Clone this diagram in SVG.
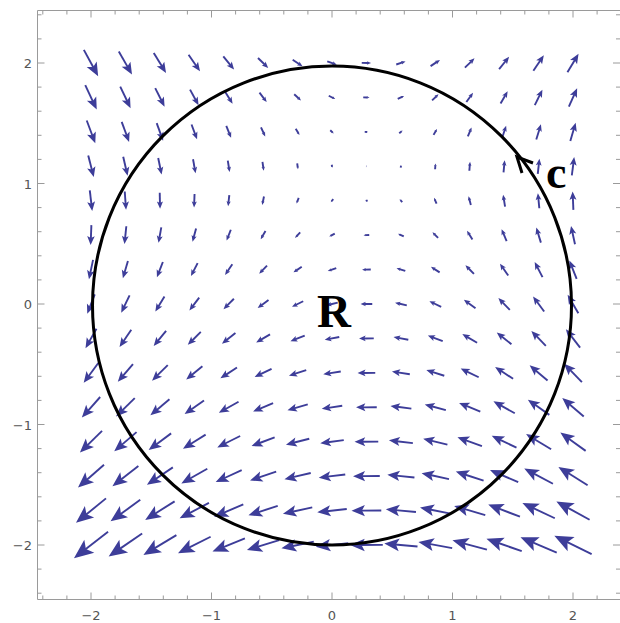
<svg xmlns="http://www.w3.org/2000/svg" width="620" height="623" viewBox="0 0 620 623">
<style>
.sh{fill:none;stroke:#3d3d99;stroke-width:1.9;vector-effect:non-scaling-stroke}
.hd{fill:#3d3d99;stroke:none}
.fr{fill:none;stroke:#9a9a9a;stroke-width:1}
.tk{font-family:"DejaVu Sans",sans-serif;font-size:13px;fill:#555}
.lb{font-family:"Liberation Serif","Times New Roman",serif;font-weight:bold;fill:#000}
</style>
<defs>
<g id="v"><path class="sh" d="M-0.5,0H0.18"/><path class="hd" d="M0.5,0L0.05,-0.19L0.15,0L0.05,0.19Z"/></g>
</defs>
<rect width="620" height="623" fill="#fff"/>
<g id="frame">
<path class="fr" d="M37.5,10.5H620M37.5,10.5V599.5H620"/>
<path class="fr" d="M91,599.5v-7M211.5,599.5v-7M332,599.5v-7M452.5,599.5v-7M573,599.5v-7M42.8,599.5v-4M66.9,599.5v-4M115.1,599.5v-4M139.2,599.5v-4M163.3,599.5v-4M187.4,599.5v-4M235.6,599.5v-4M259.7,599.5v-4M283.8,599.5v-4M307.9,599.5v-4M356.1,599.5v-4M380.2,599.5v-4M404.3,599.5v-4M428.4,599.5v-4M476.6,599.5v-4M500.7,599.5v-4M524.8,599.5v-4M548.9,599.5v-4M597.1,599.5v-4"/>
<path class="fr" d="M91,10.5v7M211.5,10.5v7M332,10.5v7M452.5,10.5v7M573,10.5v7M42.8,10.5v4M66.9,10.5v4M115.1,10.5v4M139.2,10.5v4M163.3,10.5v4M187.4,10.5v4M235.6,10.5v4M259.7,10.5v4M283.8,10.5v4M307.9,10.5v4M356.1,10.5v4M380.2,10.5v4M404.3,10.5v4M428.4,10.5v4M476.6,10.5v4M500.7,10.5v4M524.8,10.5v4M548.9,10.5v4M597.1,10.5v4"/>
<path class="fr" d="M37.5,63h7M37.5,183.5h7M37.5,304h7M37.5,424.5h7M37.5,545h7M37.5,14.8h4M37.5,38.9h4M37.5,87.1h4M37.5,111.2h4M37.5,135.3h4M37.5,159.4h4M37.5,207.6h4M37.5,231.7h4M37.5,255.8h4M37.5,279.9h4M37.5,328.1h4M37.5,352.2h4M37.5,376.3h4M37.5,400.4h4M37.5,448.6h4M37.5,472.7h4M37.5,496.8h4M37.5,520.9h4M37.5,569.1h4M37.5,593.2h4"/>
<path class="fr" d="M620,63h-7M620,183.5h-7M620,304h-7M620,424.5h-7M620,545h-7M620,14.8h-4M620,38.9h-4M620,87.1h-4M620,111.2h-4M620,135.3h-4M620,159.4h-4M620,207.6h-4M620,231.7h-4M620,255.8h-4M620,279.9h-4M620,328.1h-4M620,352.2h-4M620,376.3h-4M620,400.4h-4M620,448.6h-4M620,472.7h-4M620,496.8h-4M620,520.9h-4M620,569.1h-4M620,593.2h-4"/>
<text class="tk" x="91" y="620" text-anchor="middle">−2</text>
<text class="tk" x="211.5" y="620" text-anchor="middle">−1</text>
<text class="tk" x="332" y="620" text-anchor="middle">0</text>
<text class="tk" x="452.5" y="620" text-anchor="middle">1</text>
<text class="tk" x="573" y="620" text-anchor="middle">2</text>
<text class="tk" x="32" y="68" text-anchor="end">2</text>
<text class="tk" x="32" y="188.5" text-anchor="end">1</text>
<text class="tk" x="32" y="309" text-anchor="end">0</text>
<text class="tk" x="32" y="429.5" text-anchor="end">−1</text>
<text class="tk" x="32" y="550" text-anchor="end">−2</text>
</g>
<g id="field">
<g transform="translate(0,63)">
<use href="#v" transform="matrix(14.3 26.28 -26.28 14.3 91 0)"/>
<use href="#v" transform="matrix(13.22 23.02 -23.02 13.22 125.4 0)"/>
<use href="#v" transform="matrix(12.28 19.79 -19.79 12.28 159.9 0)"/>
<use href="#v" transform="matrix(11.46 16.5 -16.5 11.46 194.3 0)"/>
<use href="#v" transform="matrix(10.77 13.21 -13.21 10.77 228.7 0)"/>
<use href="#v" transform="matrix(10.22 9.93 -9.93 10.22 263.1 0)"/>
<use href="#v" transform="matrix(9.79 6.66 -6.66 9.79 297.6 0)"/>
<use href="#v" transform="matrix(9.5 3.4 -3.4 9.5 332 0)"/>
<use href="#v" transform="matrix(9.34 0.16 -0.16 9.34 366.4 0)"/>
<use href="#v" transform="matrix(9.31 -3.04 3.04 9.31 400.9 0)"/>
<use href="#v" transform="matrix(9.4 -6.21 6.21 9.4 435.3 0)"/>
<use href="#v" transform="matrix(9.63 -9.34 9.34 9.63 469.7 0)"/>
<use href="#v" transform="matrix(9.99 -12.42 12.42 9.99 504.1 0)"/>
<use href="#v" transform="matrix(10.48 -15.42 15.42 10.48 538.6 0)"/>
<use href="#v" transform="matrix(11.1 -18.36 18.36 11.1 573 0)"/>
</g>
<g transform="translate(0,97.4)">
<use href="#v" transform="matrix(11.48 24.43 -24.43 11.48 91 0)"/>
<use href="#v" transform="matrix(10.35 21.5 -21.5 10.35 125.4 0)"/>
<use href="#v" transform="matrix(9.37 18.55 -18.55 9.37 159.9 0)"/>
<use href="#v" transform="matrix(8.52 15.53 -15.53 8.52 194.3 0)"/>
<use href="#v" transform="matrix(7.81 12.5 -12.5 7.81 228.7 0)"/>
<use href="#v" transform="matrix(7.23 9.43 -9.43 7.23 263.1 0)"/>
<use href="#v" transform="matrix(6.8 6.35 -6.35 6.8 297.6 0)"/>
<use href="#v" transform="matrix(6.5 3.26 -3.26 6.5 332 0)"/>
<use href="#v" transform="matrix(6.34 0.15 -0.15 6.34 366.4 0)"/>
<use href="#v" transform="matrix(6.32 -2.94 2.94 6.32 400.9 0)"/>
<use href="#v" transform="matrix(6.44 -6.06 6.06 6.44 435.3 0)"/>
<use href="#v" transform="matrix(6.69 -9.16 9.16 6.69 469.7 0)"/>
<use href="#v" transform="matrix(7.08 -12.26 12.26 7.08 504.1 0)"/>
<use href="#v" transform="matrix(7.61 -15.31 15.31 7.61 538.6 0)"/>
<use href="#v" transform="matrix(8.28 -18.36 18.36 8.28 573 0)"/>
</g>
<g transform="translate(0,131.9)">
<use href="#v" transform="matrix(8.56 22.87 -22.87 8.56 91 0)"/>
<use href="#v" transform="matrix(7.41 20.2 -20.2 7.41 125.4 0)"/>
<use href="#v" transform="matrix(6.41 17.5 -17.5 6.41 159.9 0)"/>
<use href="#v" transform="matrix(5.54 14.72 -14.72 5.54 194.3 0)"/>
<use href="#v" transform="matrix(4.82 11.89 -11.89 4.82 228.7 0)"/>
<use href="#v" transform="matrix(4.24 9.01 -9.01 4.24 263.1 0)"/>
<use href="#v" transform="matrix(3.8 6.1 -6.1 3.8 297.6 0)"/>
<use href="#v" transform="matrix(3.5 3.14 -3.14 3.5 332 0)"/>
<use href="#v" transform="matrix(3.34 0.15 -0.15 3.34 366.4 0)"/>
<use href="#v" transform="matrix(3.33 -2.87 2.87 3.33 400.9 0)"/>
<use href="#v" transform="matrix(3.45 -5.93 5.93 3.45 435.3 0)"/>
<use href="#v" transform="matrix(3.72 -9.01 9.01 3.72 469.7 0)"/>
<use href="#v" transform="matrix(4.12 -12.12 12.12 4.12 504.1 0)"/>
<use href="#v" transform="matrix(4.67 -15.23 15.23 4.67 538.6 0)"/>
<use href="#v" transform="matrix(5.36 -18.36 18.36 5.36 573 0)"/>
</g>
<g transform="translate(0,166.3)">
<use href="#v" transform="matrix(5.54 21.59 -21.59 5.54 91 0)"/>
<use href="#v" transform="matrix(4.4 19.14 -19.14 4.4 125.4 0)"/>
<use href="#v" transform="matrix(3.4 16.64 -16.64 3.4 159.9 0)"/>
<use href="#v" transform="matrix(2.54 14.05 -14.05 2.54 194.3 0)"/>
<use href="#v" transform="matrix(1.82 11.39 -11.39 1.82 228.7 0)"/>
<use href="#v" transform="matrix(1.24 8.67 -8.67 1.24 263.1 0)"/>
<use href="#v" transform="matrix(0.8 5.89 -5.89 0.8 297.6 0)"/>
<use href="#v" transform="matrix(0.5 3.05 -3.05 0.5 332 0)"/>
<use href="#v" transform="matrix(0.34 0.14 -0.14 0.34 366.4 0)"/>
<use href="#v" transform="matrix(0.33 -2.8 2.8 0.33 400.9 0)"/>
<use href="#v" transform="matrix(0.45 -5.82 5.82 0.45 435.3 0)"/>
<use href="#v" transform="matrix(0.71 -8.89 8.89 0.71 469.7 0)"/>
<use href="#v" transform="matrix(1.11 -12.01 12.01 1.11 504.1 0)"/>
<use href="#v" transform="matrix(1.66 -15.16 15.16 1.66 538.6 0)"/>
<use href="#v" transform="matrix(2.34 -18.36 18.36 2.34 573 0)"/>
</g>
<g transform="translate(0,200.7)">
<use href="#v" transform="matrix(2.43 20.6 -20.6 2.43 91 0)"/>
<use href="#v" transform="matrix(1.32 18.32 -18.32 1.32 125.4 0)"/>
<use href="#v" transform="matrix(0.34 15.98 -15.98 0.34 159.9 0)"/>
<use href="#v" transform="matrix(-0.5 13.53 -13.53 -0.5 194.3 0)"/>
<use href="#v" transform="matrix(-1.2 11.01 -11.01 -1.2 228.7 0)"/>
<use href="#v" transform="matrix(-1.77 8.4 -8.4 -1.77 263.1 0)"/>
<use href="#v" transform="matrix(-2.2 5.73 -5.73 -2.2 297.6 0)"/>
<use href="#v" transform="matrix(-2.5 2.98 -2.98 -2.5 332 0)"/>
<use href="#v" transform="matrix(-2.66 0.14 -0.14 -2.66 366.4 0)"/>
<use href="#v" transform="matrix(-2.69 -2.75 2.75 -2.69 400.9 0)"/>
<use href="#v" transform="matrix(-2.57 -5.74 5.74 -2.57 435.3 0)"/>
<use href="#v" transform="matrix(-2.33 -8.79 8.79 -2.33 469.7 0)"/>
<use href="#v" transform="matrix(-1.94 -11.92 11.92 -1.94 504.1 0)"/>
<use href="#v" transform="matrix(-1.42 -15.1 15.1 -1.42 538.6 0)"/>
<use href="#v" transform="matrix(-0.77 -18.36 18.36 -0.77 573 0)"/>
</g>
<g transform="translate(0,235.1)">
<use href="#v" transform="matrix(-0.78 19.89 -19.89 -0.78 91 0)"/>
<use href="#v" transform="matrix(-1.84 17.73 -17.73 -1.84 125.4 0)"/>
<use href="#v" transform="matrix(-2.77 15.5 -15.5 -2.77 159.9 0)"/>
<use href="#v" transform="matrix(-3.57 13.16 -13.16 -3.57 194.3 0)"/>
<use href="#v" transform="matrix(-4.24 10.73 -10.73 -4.24 228.7 0)"/>
<use href="#v" transform="matrix(-4.79 8.21 -8.21 -4.79 263.1 0)"/>
<use href="#v" transform="matrix(-5.21 5.61 -5.61 -5.21 297.6 0)"/>
<use href="#v" transform="matrix(-5.5 2.92 -2.92 -5.5 332 0)"/>
<use href="#v" transform="matrix(-5.67 0.14 -0.14 -5.67 366.4 0)"/>
<use href="#v" transform="matrix(-5.7 -2.72 2.72 -5.7 400.9 0)"/>
<use href="#v" transform="matrix(-5.61 -5.68 5.68 -5.61 435.3 0)"/>
<use href="#v" transform="matrix(-5.4 -8.72 8.72 -5.4 469.7 0)"/>
<use href="#v" transform="matrix(-5.05 -11.86 11.86 -5.05 504.1 0)"/>
<use href="#v" transform="matrix(-4.58 -15.06 15.06 -4.58 538.6 0)"/>
<use href="#v" transform="matrix(-3.98 -18.36 18.36 -3.98 573 0)"/>
</g>
<g transform="translate(0,269.6)">
<use href="#v" transform="matrix(-4.09 19.46 -19.46 -4.09 91 0)"/>
<use href="#v" transform="matrix(-5.07 17.38 -17.38 -5.07 125.4 0)"/>
<use href="#v" transform="matrix(-5.92 15.22 -15.22 -5.92 159.9 0)"/>
<use href="#v" transform="matrix(-6.67 12.93 -12.93 -6.67 194.3 0)"/>
<use href="#v" transform="matrix(-7.3 10.56 -10.56 -7.3 228.7 0)"/>
<use href="#v" transform="matrix(-7.81 8.1 -8.1 -7.81 263.1 0)"/>
<use href="#v" transform="matrix(-8.21 5.54 -5.54 -8.21 297.6 0)"/>
<use href="#v" transform="matrix(-8.5 2.89 -2.89 -8.5 332 0)"/>
<use href="#v" transform="matrix(-8.67 0.14 -0.14 -8.67 366.4 0)"/>
<use href="#v" transform="matrix(-8.73 -2.7 2.7 -8.73 400.9 0)"/>
<use href="#v" transform="matrix(-8.67 -5.64 5.64 -8.67 435.3 0)"/>
<use href="#v" transform="matrix(-8.5 -8.69 8.69 -8.5 469.7 0)"/>
<use href="#v" transform="matrix(-8.21 -11.83 11.83 -8.21 504.1 0)"/>
<use href="#v" transform="matrix(-7.81 -15.04 15.04 -7.81 538.6 0)"/>
<use href="#v" transform="matrix(-7.29 -18.36 18.36 -7.29 573 0)"/>
</g>
<g transform="translate(0,304)">
<use href="#v" transform="matrix(-7.5 19.32 -19.32 -7.5 91 0)"/>
<use href="#v" transform="matrix(-8.37 17.26 -17.26 -8.37 125.4 0)"/>
<use href="#v" transform="matrix(-9.13 15.12 -15.12 -9.13 159.9 0)"/>
<use href="#v" transform="matrix(-9.8 12.86 -12.86 -9.8 194.3 0)"/>
<use href="#v" transform="matrix(-10.37 10.51 -10.51 -10.37 228.7 0)"/>
<use href="#v" transform="matrix(-10.85 8.06 -8.06 -10.85 263.1 0)"/>
<use href="#v" transform="matrix(-11.22 5.52 -5.52 -11.22 297.6 0)"/>
<use href="#v" transform="matrix(-11.5 2.88 -2.88 -11.5 332 0)"/>
<use href="#v" transform="matrix(-11.68 0.14 -0.14 -11.68 366.4 0)"/>
<use href="#v" transform="matrix(-11.76 -2.69 2.69 -11.76 400.9 0)"/>
<use href="#v" transform="matrix(-11.75 -5.63 5.63 -11.75 435.3 0)"/>
<use href="#v" transform="matrix(-11.63 -8.67 8.67 -11.63 469.7 0)"/>
<use href="#v" transform="matrix(-11.42 -11.81 11.81 -11.42 504.1 0)"/>
<use href="#v" transform="matrix(-11.11 -15.03 15.03 -11.11 538.6 0)"/>
<use href="#v" transform="matrix(-10.7 -18.36 18.36 -10.7 573 0)"/>
</g>
<g transform="translate(0,338.4)">
<use href="#v" transform="matrix(-11 19.46 -19.46 -11 91 0)"/>
<use href="#v" transform="matrix(-11.74 17.38 -17.38 -11.74 125.4 0)"/>
<use href="#v" transform="matrix(-12.39 15.22 -15.22 -12.39 159.9 0)"/>
<use href="#v" transform="matrix(-12.97 12.93 -12.93 -12.97 194.3 0)"/>
<use href="#v" transform="matrix(-13.47 10.56 -10.56 -13.47 228.7 0)"/>
<use href="#v" transform="matrix(-13.89 8.1 -8.1 -13.89 263.1 0)"/>
<use href="#v" transform="matrix(-14.23 5.54 -5.54 -14.23 297.6 0)"/>
<use href="#v" transform="matrix(-14.5 2.89 -2.89 -14.5 332 0)"/>
<use href="#v" transform="matrix(-14.69 0.14 -0.14 -14.69 366.4 0)"/>
<use href="#v" transform="matrix(-14.8 -2.7 2.7 -14.8 400.9 0)"/>
<use href="#v" transform="matrix(-14.84 -5.64 5.64 -14.84 435.3 0)"/>
<use href="#v" transform="matrix(-14.8 -8.69 8.69 -14.8 469.7 0)"/>
<use href="#v" transform="matrix(-14.68 -11.83 11.83 -14.68 504.1 0)"/>
<use href="#v" transform="matrix(-14.48 -15.04 15.04 -14.48 538.6 0)"/>
<use href="#v" transform="matrix(-14.2 -18.36 18.36 -14.2 573 0)"/>
</g>
<g transform="translate(0,372.9)">
<use href="#v" transform="matrix(-14.61 19.89 -19.89 -14.61 91 0)"/>
<use href="#v" transform="matrix(-15.18 17.73 -17.73 -15.18 125.4 0)"/>
<use href="#v" transform="matrix(-15.7 15.5 -15.5 -15.7 159.9 0)"/>
<use href="#v" transform="matrix(-16.17 13.16 -13.16 -16.17 194.3 0)"/>
<use href="#v" transform="matrix(-16.58 10.73 -10.73 -16.58 228.7 0)"/>
<use href="#v" transform="matrix(-16.94 8.21 -8.21 -16.94 263.1 0)"/>
<use href="#v" transform="matrix(-17.25 5.61 -5.61 -17.25 297.6 0)"/>
<use href="#v" transform="matrix(-17.5 2.92 -2.92 -17.5 332 0)"/>
<use href="#v" transform="matrix(-17.7 0.14 -0.14 -17.7 366.4 0)"/>
<use href="#v" transform="matrix(-17.85 -2.72 2.72 -17.85 400.9 0)"/>
<use href="#v" transform="matrix(-17.95 -5.68 5.68 -17.95 435.3 0)"/>
<use href="#v" transform="matrix(-17.99 -8.72 8.72 -17.99 469.7 0)"/>
<use href="#v" transform="matrix(-17.99 -11.86 11.86 -17.99 504.1 0)"/>
<use href="#v" transform="matrix(-17.93 -15.06 15.06 -17.93 538.6 0)"/>
<use href="#v" transform="matrix(-17.81 -18.36 18.36 -17.81 573 0)"/>
</g>
<g transform="translate(0,407.3)">
<use href="#v" transform="matrix(-18.31 20.6 -20.6 -18.31 91 0)"/>
<use href="#v" transform="matrix(-18.7 18.32 -18.32 -18.7 125.4 0)"/>
<use href="#v" transform="matrix(-19.06 15.98 -15.98 -19.06 159.9 0)"/>
<use href="#v" transform="matrix(-19.39 13.53 -13.53 -19.39 194.3 0)"/>
<use href="#v" transform="matrix(-19.71 11.01 -11.01 -19.71 228.7 0)"/>
<use href="#v" transform="matrix(-20 8.4 -8.4 -20 263.1 0)"/>
<use href="#v" transform="matrix(-20.26 5.73 -5.73 -20.26 297.6 0)"/>
<use href="#v" transform="matrix(-20.5 2.98 -2.98 -20.5 332 0)"/>
<use href="#v" transform="matrix(-20.72 0.14 -0.14 -20.72 366.4 0)"/>
<use href="#v" transform="matrix(-20.91 -2.75 2.75 -20.91 400.9 0)"/>
<use href="#v" transform="matrix(-21.08 -5.74 5.74 -21.08 435.3 0)"/>
<use href="#v" transform="matrix(-21.22 -8.79 8.79 -21.22 469.7 0)"/>
<use href="#v" transform="matrix(-21.34 -11.92 11.92 -21.34 504.1 0)"/>
<use href="#v" transform="matrix(-21.44 -15.1 15.1 -21.44 538.6 0)"/>
<use href="#v" transform="matrix(-21.51 -18.36 18.36 -21.51 573 0)"/>
</g>
<g transform="translate(0,441.7)">
<use href="#v" transform="matrix(-22.11 21.59 -21.59 -22.11 91 0)"/>
<use href="#v" transform="matrix(-22.29 19.14 -19.14 -22.29 125.4 0)"/>
<use href="#v" transform="matrix(-22.47 16.64 -16.64 -22.47 159.9 0)"/>
<use href="#v" transform="matrix(-22.66 14.05 -14.05 -22.66 194.3 0)"/>
<use href="#v" transform="matrix(-22.85 11.39 -11.39 -22.85 228.7 0)"/>
<use href="#v" transform="matrix(-23.06 8.67 -8.67 -23.06 263.1 0)"/>
<use href="#v" transform="matrix(-23.28 5.89 -5.89 -23.28 297.6 0)"/>
<use href="#v" transform="matrix(-23.5 3.05 -3.05 -23.5 332 0)"/>
<use href="#v" transform="matrix(-23.73 0.14 -0.14 -23.73 366.4 0)"/>
<use href="#v" transform="matrix(-23.97 -2.8 2.8 -23.97 400.9 0)"/>
<use href="#v" transform="matrix(-24.23 -5.82 5.82 -24.23 435.3 0)"/>
<use href="#v" transform="matrix(-24.48 -8.89 8.89 -24.48 469.7 0)"/>
<use href="#v" transform="matrix(-24.75 -12.01 12.01 -24.75 504.1 0)"/>
<use href="#v" transform="matrix(-25.03 -15.16 15.16 -25.03 538.6 0)"/>
<use href="#v" transform="matrix(-25.31 -18.36 18.36 -25.31 573 0)"/>
</g>
<g transform="translate(0,476.1)">
<use href="#v" transform="matrix(-26.01 22.87 -22.87 -26.01 91 0)"/>
<use href="#v" transform="matrix(-25.94 20.2 -20.2 -25.94 125.4 0)"/>
<use href="#v" transform="matrix(-25.92 17.5 -17.5 -25.92 159.9 0)"/>
<use href="#v" transform="matrix(-25.95 14.72 -14.72 -25.95 194.3 0)"/>
<use href="#v" transform="matrix(-26.02 11.89 -11.89 -26.02 228.7 0)"/>
<use href="#v" transform="matrix(-26.13 9.01 -9.01 -26.13 263.1 0)"/>
<use href="#v" transform="matrix(-26.29 6.1 -6.1 -26.29 297.6 0)"/>
<use href="#v" transform="matrix(-26.5 3.14 -3.14 -26.5 332 0)"/>
<use href="#v" transform="matrix(-26.75 0.15 -0.15 -26.75 366.4 0)"/>
<use href="#v" transform="matrix(-27.05 -2.87 2.87 -27.05 400.9 0)"/>
<use href="#v" transform="matrix(-27.39 -5.93 5.93 -27.39 435.3 0)"/>
<use href="#v" transform="matrix(-27.78 -9.01 9.01 -27.78 469.7 0)"/>
<use href="#v" transform="matrix(-28.21 -12.12 12.12 -28.21 504.1 0)"/>
<use href="#v" transform="matrix(-28.69 -15.23 15.23 -28.69 538.6 0)"/>
<use href="#v" transform="matrix(-29.21 -18.36 18.36 -29.21 573 0)"/>
</g>
<g transform="translate(0,510.6)">
<use href="#v" transform="matrix(-30.01 24.43 -24.43 -30.01 91 0)"/>
<use href="#v" transform="matrix(-29.68 21.5 -21.5 -29.68 125.4 0)"/>
<use href="#v" transform="matrix(-29.43 18.55 -18.55 -29.43 159.9 0)"/>
<use href="#v" transform="matrix(-29.27 15.53 -15.53 -29.27 194.3 0)"/>
<use href="#v" transform="matrix(-29.2 12.5 -12.5 -29.2 228.7 0)"/>
<use href="#v" transform="matrix(-29.22 9.43 -9.43 -29.22 263.1 0)"/>
<use href="#v" transform="matrix(-29.31 6.35 -6.35 -29.31 297.6 0)"/>
<use href="#v" transform="matrix(-29.5 3.26 -3.26 -29.5 332 0)"/>
<use href="#v" transform="matrix(-29.77 0.15 -0.15 -29.77 366.4 0)"/>
<use href="#v" transform="matrix(-30.13 -2.94 2.94 -30.13 400.9 0)"/>
<use href="#v" transform="matrix(-30.57 -6.06 6.06 -30.57 435.3 0)"/>
<use href="#v" transform="matrix(-31.1 -9.16 9.16 -31.1 469.7 0)"/>
<use href="#v" transform="matrix(-31.72 -12.26 12.26 -31.72 504.1 0)"/>
<use href="#v" transform="matrix(-32.42 -15.31 15.31 -32.42 538.6 0)"/>
<use href="#v" transform="matrix(-33.21 -18.36 18.36 -33.21 573 0)"/>
</g>
<g transform="translate(0,545)">
<use href="#v" transform="matrix(-34.1 26.28 -26.28 -34.1 91 0)"/>
<use href="#v" transform="matrix(-33.48 23.02 -23.02 -33.48 125.4 0)"/>
<use href="#v" transform="matrix(-32.99 19.79 -19.79 -32.99 159.9 0)"/>
<use href="#v" transform="matrix(-32.63 16.5 -16.5 -32.63 194.3 0)"/>
<use href="#v" transform="matrix(-32.4 13.21 -13.21 -32.4 228.7 0)"/>
<use href="#v" transform="matrix(-32.31 9.93 -9.93 -32.31 263.1 0)"/>
<use href="#v" transform="matrix(-32.34 6.66 -6.66 -32.34 297.6 0)"/>
<use href="#v" transform="matrix(-32.5 3.4 -3.4 -32.5 332 0)"/>
<use href="#v" transform="matrix(-32.79 0.16 -0.16 -32.79 366.4 0)"/>
<use href="#v" transform="matrix(-33.22 -3.04 3.04 -33.22 400.9 0)"/>
<use href="#v" transform="matrix(-33.77 -6.21 6.21 -33.77 435.3 0)"/>
<use href="#v" transform="matrix(-34.46 -9.34 9.34 -34.46 469.7 0)"/>
<use href="#v" transform="matrix(-35.28 -12.42 12.42 -35.28 504.1 0)"/>
<use href="#v" transform="matrix(-36.22 -15.42 15.42 -36.22 538.6 0)"/>
<use href="#v" transform="matrix(-37.3 -18.36 18.36 -37.3 573 0)"/>
</g>
</g>
<g id="curve-C">
<circle cx="332" cy="305.5" r="239.5" fill="none" stroke="#000" stroke-width="3"/>
<polyline points="533,163 517,157 522,173" fill="none" stroke="#000" stroke-width="3" stroke-linejoin="miter"/>
<text class="lb" x="546" y="188" font-size="46">c</text>
</g>
<g id="region-R">
<text class="lb" x="317" y="327" font-size="47">R</text>
</g>
</svg>
